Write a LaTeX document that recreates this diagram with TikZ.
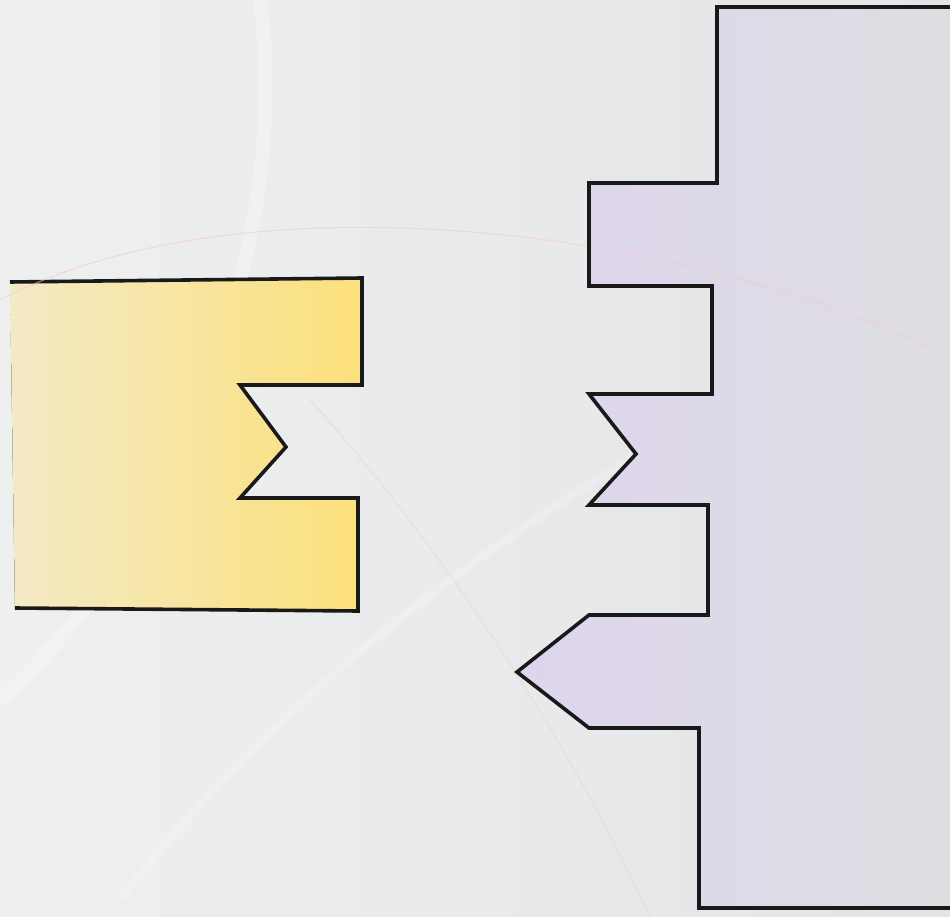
\documentclass[tikz,border=0pt]{standalone}
\begin{document}
\begin{tikzpicture}[x=1pt,y=-1pt,
  outline/.style={line width=3.6pt,line join=miter,draw=black!90}]
\definecolor{bgL}{HTML}{EEF0F0}
\definecolor{bgR}{HTML}{E4E4E7}
\definecolor{yfillL}{HTML}{F3EAC6}
\definecolor{yfillR}{HTML}{FCE07A}
\definecolor{pfillL}{HTML}{DED5EE}
\definecolor{pfillR}{HTML}{DEDEE1}
\definecolor{arcred}{HTML}{F5C8C8}
% background
\useasboundingbox (0,0) rectangle (950,917);
\shade[left color=bgL,right color=bgR] (0,0) rectangle (950,917);
% faint decorative streaks
\draw[white,opacity=0.25,line width=14pt] (260,0) .. controls (300,300) and (120,600) .. (0,700);
\draw[white,opacity=0.2,line width=8pt] (120,900) .. controls (350,600) and (700,400) .. (950,300);
% yellow block
\fill[left color=yfillL,right color=yfillR]
  (10,282) -- (362,278) -- (362,385) -- (240,385) -- (286,447) -- (240,498)
  -- (358,498) -- (358,611) -- (15,608) -- cycle;
\draw[outline]
  (10,282) -- (362,278) -- (362,385) -- (240,385) -- (286,447) -- (240,498)
  -- (358,498) -- (358,611) -- (15,608);
% purple block
\fill[left color=pfillL,right color=pfillR]
  (950,7) -- (717,7) -- (717,183) -- (589,183) -- (589,286) -- (712,286)
  -- (712,394) -- (589,394) -- (636,454) -- (589,505) -- (708,505)
  -- (708,615) -- (589,615) -- (517,672) -- (589,728) -- (699,728)
  -- (699,908) -- (950,908) -- cycle;
% faint red arcs over everything
\draw[arcred,line width=1.2pt,opacity=0.55] (0,300) .. controls (250,170) and (700,230) .. (950,358);
\draw[arcred,line width=1pt,opacity=0.45] (310,400) .. controls (420,520) and (560,720) .. (650,917);
\draw[outline]
  (950,7) -- (717,7) -- (717,183) -- (589,183) -- (589,286) -- (712,286)
  -- (712,394) -- (589,394) -- (636,454) -- (589,505) -- (708,505)
  -- (708,615) -- (589,615) -- (517,672) -- (589,728) -- (699,728)
  -- (699,908) -- (950,908);
\end{tikzpicture}
\end{document}
